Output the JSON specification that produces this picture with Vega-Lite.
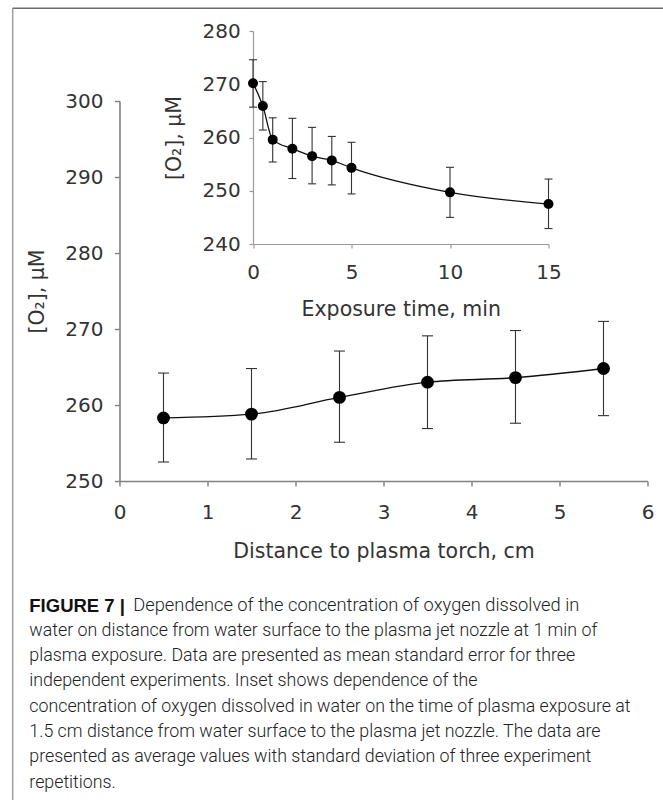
{
  "$schema": "https://vega.github.io/schema/vega-lite/v6.json",
  "width": 528,
  "height": 380,
  "autosize": {"type": "none"},
  "padding": {"left": 119.5, "top": 101, "right": 15.5, "bottom": 319},
  "background": "white",
  "config": {
    "view": {"stroke": null},
    "axis": {
      "grid": false,
      "labelFont": "DejaVu Sans",
      "titleFont": "DejaVu Sans",
      "titleFontWeight": "normal",
      "labelColor": "#333333",
      "titleColor": "#333333",
      "labelFlush": false,
      "labelOverlap": false,
      "labelFontSize": 20,
      "titleFontSize": 20.5
    }
  },
  "datasets": {
    "distance": [
      {"d": 0.5, "o2": 258.3, "lo": 252.5, "hi": 264.2},
      {"d": 1.5, "o2": 258.8, "lo": 252.9, "hi": 264.8},
      {"d": 2.5, "o2": 261.0, "lo": 255.1, "hi": 267.1},
      {"d": 3.5, "o2": 263.0, "lo": 256.9, "hi": 269.1},
      {"d": 4.5, "o2": 263.6, "lo": 257.6, "hi": 269.8},
      {"d": 5.5, "o2": 264.8, "lo": 258.6, "hi": 271.0}
    ],
    "time": [
      {"t": 0, "o2": 270.2, "lo": 265.7, "hi": 274.6},
      {"t": 0.5, "o2": 265.9, "lo": 261.4, "hi": 270.5},
      {"t": 1, "o2": 259.6, "lo": 255.4, "hi": 263.7},
      {"t": 2, "o2": 257.9, "lo": 252.3, "hi": 263.6},
      {"t": 3, "o2": 256.5, "lo": 251.3, "hi": 261.9},
      {"t": 4, "o2": 255.7, "lo": 251.1, "hi": 260.2},
      {"t": 5, "o2": 254.3, "lo": 249.4, "hi": 259.1},
      {"t": 10, "o2": 249.7, "lo": 245.0, "hi": 254.4},
      {"t": 15, "o2": 247.5, "lo": 242.9, "hi": 252.2}
    ],
    "caption": [
      {"line": 1, "part": "label", "text": "FIGURE 7 |"},
      {"line": 1, "part": "first", "text": "Dependence of the concentration of oxygen dissolved in"},
      {"line": 2, "part": "body", "text": "water on distance from water surface to the plasma jet nozzle at 1 min of"},
      {"line": 3, "part": "body", "text": "plasma exposure. Data are presented as mean standard error for three"},
      {"line": 4, "part": "body", "text": "independent experiments. Inset shows dependence of the"},
      {"line": 5, "part": "body", "text": "concentration of oxygen dissolved in water on the time of plasma exposure at"},
      {"line": 6, "part": "body", "text": "1.5 cm distance from water surface to the plasma jet nozzle. The data are"},
      {"line": 7, "part": "body", "text": "presented as average values with standard deviation of three experiment"},
      {"line": 8, "part": "body", "text": "repetitions."}
    ]
  },
  "layer": [
    {
      "data": {"name": "distance"},
      "encoding": {
        "x": {
          "field": "d", "type": "quantitative",
          "scale": {"domain": [0, 6], "nice": false, "zero": false},
          "axis": {"orient": "bottom", "values": [0, 1, 2, 3, 4, 5, 6], "title": "Distance to plasma torch, cm",
            "tickSize": 5, "labelPadding": 16, "titlePadding": 19, "domainWidth": 1.6, "tickWidth": 1.4,
            "domainColor": "#808080", "tickColor": "#808080"}
        }
      },
      "layer": [
        {
          "mark": {"type": "line", "interpolate": "monotone", "color": "#111111", "strokeWidth": 1.3},
          "encoding": {
            "y": {"field": "o2", "type": "quantitative",
              "scale": {"domain": [250, 300], "nice": false, "zero": false},
              "axis": {"orient": "left", "values": [250, 260, 270, 280, 290, 300], "title": "[O₂], μM",
                "tickSize": 5, "labelPadding": 11.5, "titlePadding": 17, "domainWidth": 1.6, "tickWidth": 1.4,
                "domainColor": "#808080", "tickColor": "#808080"}}
          }
        },
        {
          "mark": {"type": "rule", "color": "#333333", "strokeWidth": 1.1},
          "encoding": {
            "y": {"field": "lo", "type": "quantitative", "scale": {"domain": [250, 300], "nice": false, "zero": false},
              "axis": {"orient": "left", "values": [250, 260, 270, 280, 290, 300], "title": "[O₂], μM",
                "tickSize": 5, "labelPadding": 11.5, "titlePadding": 17, "domainWidth": 1.6, "tickWidth": 1.4,
                "domainColor": "#808080", "tickColor": "#808080"}},
            "y2": {"field": "hi"}
          }
        },
        {
          "mark": {"type": "tick", "orient": "horizontal", "size": 11, "thickness": 1.1, "color": "#333333", "opacity": 1},
          "encoding": {
            "y": {"field": "lo", "type": "quantitative", "scale": {"domain": [250, 300], "nice": false, "zero": false},
              "axis": {"orient": "left", "values": [250, 260, 270, 280, 290, 300], "title": "[O₂], μM",
                "tickSize": 5, "labelPadding": 11.5, "titlePadding": 17, "domainWidth": 1.6, "tickWidth": 1.4,
                "domainColor": "#808080", "tickColor": "#808080"}}
          }
        },
        {
          "mark": {"type": "tick", "orient": "horizontal", "size": 11, "thickness": 1.1, "color": "#333333", "opacity": 1},
          "encoding": {
            "y": {"field": "hi", "type": "quantitative", "scale": {"domain": [250, 300], "nice": false, "zero": false},
              "axis": {"orient": "left", "values": [250, 260, 270, 280, 290, 300], "title": "[O₂], μM",
                "tickSize": 5, "labelPadding": 11.5, "titlePadding": 17, "domainWidth": 1.6, "tickWidth": 1.4,
                "domainColor": "#808080", "tickColor": "#808080"}}
          }
        },
        {
          "mark": {"type": "point", "filled": true, "size": 165, "color": "#000000", "opacity": 1},
          "encoding": {
            "y": {"field": "o2", "type": "quantitative", "scale": {"domain": [250, 300], "nice": false, "zero": false},
              "axis": {"orient": "left", "values": [250, 260, 270, 280, 290, 300], "title": "[O₂], μM",
                "tickSize": 5, "labelPadding": 11.5, "titlePadding": 17, "domainWidth": 1.6, "tickWidth": 1.4,
                "domainColor": "#808080", "tickColor": "#808080"}}
          }
        }
      ]
    },
    {
      "data": {"name": "time"},
      "encoding": {
        "x": {
          "field": "t", "type": "quantitative",
          "scale": {"domain": [0, 15], "range": [133.5, 429], "nice": false, "zero": false},
          "axis": {"orient": "bottom", "offset": -237, "values": [0, 5, 10, 15], "title": "Exposure time, min",
            "tickSize": 4, "labelPadding": 14.5, "titlePadding": 17, "domainWidth": 1.2, "tickWidth": 1.2,
            "domainColor": "#9a9a9a", "tickColor": "#9a9a9a"}
        }
      },
      "layer": [
        {
          "mark": {"type": "line", "interpolate": "monotone", "color": "#111111", "strokeWidth": 1.3},
          "encoding": {
            "y": {"field": "o2", "type": "quantitative",
              "scale": {"domain": [240, 280], "range": [143, -70], "nice": false, "zero": false},
              "axis": {"orient": "left", "offset": -133.5, "values": [240, 250, 260, 270, 280], "title": "[O₂], μM",
                "tickSize": 4, "labelPadding": 8.7, "titlePadding": 18, "domainWidth": 1.2, "tickWidth": 1.2,
                "domainColor": "#9a9a9a", "tickColor": "#9a9a9a"}}
          }
        },
        {
          "mark": {"type": "rule", "color": "#333333", "strokeWidth": 1.1},
          "encoding": {
            "y": {"field": "lo", "type": "quantitative", "scale": {"domain": [240, 280], "range": [143, -70], "nice": false, "zero": false},
              "axis": {"orient": "left", "offset": -133.5, "values": [240, 250, 260, 270, 280], "title": "[O₂], μM",
                "tickSize": 4, "labelPadding": 8.7, "titlePadding": 18, "domainWidth": 1.2, "tickWidth": 1.2,
                "domainColor": "#9a9a9a", "tickColor": "#9a9a9a"}},
            "y2": {"field": "hi"}
          }
        },
        {
          "mark": {"type": "tick", "orient": "horizontal", "size": 8, "thickness": 1.1, "color": "#333333", "opacity": 1},
          "encoding": {
            "y": {"field": "lo", "type": "quantitative", "scale": {"domain": [240, 280], "range": [143, -70], "nice": false, "zero": false},
              "axis": {"orient": "left", "offset": -133.5, "values": [240, 250, 260, 270, 280], "title": "[O₂], μM",
                "tickSize": 4, "labelPadding": 8.7, "titlePadding": 18, "domainWidth": 1.2, "tickWidth": 1.2,
                "domainColor": "#9a9a9a", "tickColor": "#9a9a9a"}}
          }
        },
        {
          "mark": {"type": "tick", "orient": "horizontal", "size": 8, "thickness": 1.1, "color": "#333333", "opacity": 1},
          "encoding": {
            "y": {"field": "hi", "type": "quantitative", "scale": {"domain": [240, 280], "range": [143, -70], "nice": false, "zero": false},
              "axis": {"orient": "left", "offset": -133.5, "values": [240, 250, 260, 270, 280], "title": "[O₂], μM",
                "tickSize": 4, "labelPadding": 8.7, "titlePadding": 18, "domainWidth": 1.2, "tickWidth": 1.2,
                "domainColor": "#9a9a9a", "tickColor": "#9a9a9a"}}
          }
        },
        {
          "mark": {"type": "point", "filled": true, "size": 100, "color": "#000000", "opacity": 1},
          "encoding": {
            "y": {"field": "o2", "type": "quantitative", "scale": {"domain": [240, 280], "range": [143, -70], "nice": false, "zero": false},
              "axis": {"orient": "left", "offset": -133.5, "values": [240, 250, 260, 270, 280], "title": "[O₂], μM",
                "tickSize": 4, "labelPadding": 8.7, "titlePadding": 18, "domainWidth": 1.2, "tickWidth": 1.2,
                "domainColor": "#9a9a9a", "tickColor": "#9a9a9a"}}
          }
        }
      ]
    },
    {
      "data": {"name": "caption"},
      "layer": [
        {
          "transform": [{"filter": "datum.part === 'label'"}],
          "mark": {"type": "text", "align": "left", "baseline": "middle", "font": "Liberation Sans", "fontSize": 18.5, "fontWeight": "bold", "color": "#111111"},
          "encoding": {
            "x": {"datum": 0, "type": "quantitative", "scale": {"domain": [0, 1], "range": [-90.2, 13.8], "nice": false, "zero": false}, "axis": null},
            "y": {"field": "line", "type": "quantitative", "scale": {"domain": [1, 8], "range": [504.5, 681.6], "nice": false, "zero": false}, "axis": null},
            "text": {"field": "text"}
          }
        },
        {
          "transform": [{"filter": "datum.part === 'first'"}],
          "mark": {"type": "text", "align": "left", "baseline": "middle", "font": "Roboto", "fontSize": 18.3, "fontWeight": 300, "color": "#222222"},
          "encoding": {
            "x": {"datum": 1, "type": "quantitative", "scale": {"domain": [0, 1], "range": [-90.2, 13.8], "nice": false, "zero": false}, "axis": null},
            "y": {"field": "line", "type": "quantitative", "scale": {"domain": [1, 8], "range": [504.5, 681.6], "nice": false, "zero": false}, "axis": null},
            "text": {"field": "text"}
          }
        },
        {
          "transform": [{"filter": "datum.part === 'body'"}],
          "mark": {"type": "text", "align": "left", "baseline": "middle", "font": "Roboto", "fontSize": 17.8, "fontWeight": 300, "color": "#222222"},
          "encoding": {
            "x": {"datum": 0, "type": "quantitative", "scale": {"domain": [0, 1], "range": [-90.2, 13.8], "nice": false, "zero": false}, "axis": null},
            "y": {"field": "line", "type": "quantitative", "scale": {"domain": [1, 8], "range": [504.5, 681.6], "nice": false, "zero": false}, "axis": null},
            "text": {"field": "text"}
          }
        }
      ]
    },
    {
      "data": {"values": [{}]},
      "layer": [
        {
          "mark": {"type": "rule", "color": "#a0a0a0", "strokeWidth": 1.5},
          "encoding": {
            "x": {"datum": 0, "type": "quantitative", "scale": {"domain": [0, 1], "range": [-106.8, 543.5], "nice": false, "zero": false}, "axis": null},
            "y": {"datum": 0, "type": "quantitative", "scale": {"domain": [0, 1], "range": [-92.7, 699], "nice": false, "zero": false}, "axis": null},
            "y2": {"datum": 1}
          }
        },
        {
          "mark": {"type": "rule", "color": "#6a6a6a", "strokeWidth": 1.5},
          "encoding": {
            "x": {"datum": 0, "type": "quantitative", "scale": {"domain": [0, 1], "range": [-106.8, 543.5], "nice": false, "zero": false}, "axis": null},
            "x2": {"datum": 1},
            "y": {"datum": 0, "type": "quantitative", "scale": {"domain": [0, 1], "range": [-92.7, 699], "nice": false, "zero": false}, "axis": null}
          }
        }
      ]
    }
  ],
  "resolve": {
    "scale": {"x": "independent", "y": "independent"},
    "axis": {"x": "independent", "y": "independent"}
  }
}
